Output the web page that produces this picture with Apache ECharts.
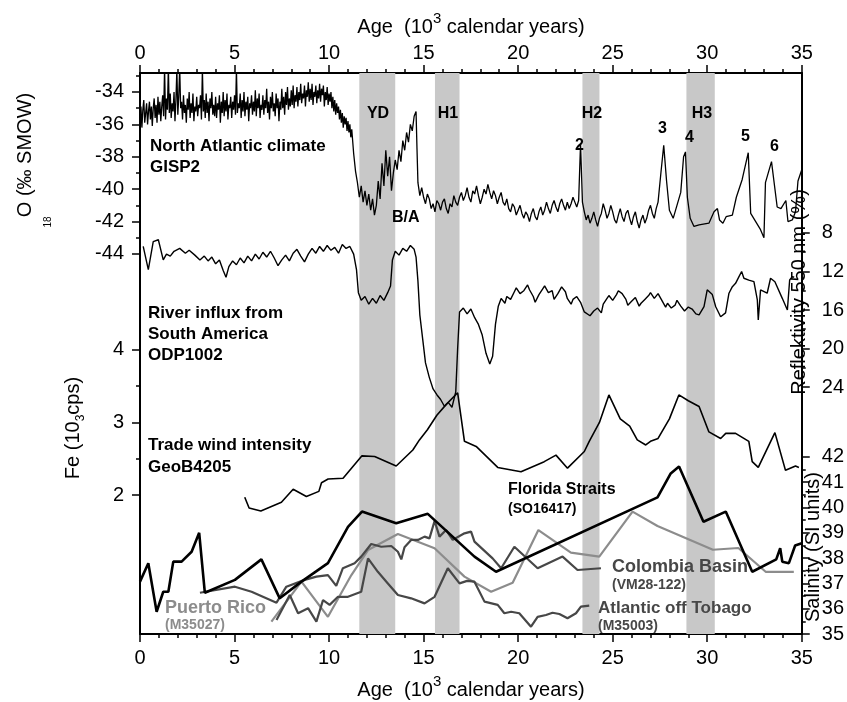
<!DOCTYPE html>
<html><head><meta charset="utf-8">
<script src="https://cdn.jsdelivr.net/npm/echarts@6/dist/echarts.min.js"></script>
<style>html,body{margin:0;padding:0;background:#fff}#c{width:847px;height:702px}</style>
</head><body><div id="c"></div>
<script>
// ---------- data ----------
const bands = [[11.6, 13.5], [15.6, 16.9], [23.4, 24.3], [28.9, 30.4]];

// GISP2 delta18O: Holocene part sampled every 0.05 ka (0 - 11.2 ka)
const gispHoloStart = 0, gispHoloStep = 0.05;
const gispHoloVal = [
-35.8,-34.9,-36.2,-35.1,-34.5,-35.9,-35.3,-34.7,-36.0,-35.2,
-34.6,-35.7,-34.9,-36.1,-35.0,-34.4,-35.6,-34.8,-35.9,-34.3,
-35.4,-34.6,-35.8,-34.9,-34.2,-35.5,-32.5,-35.7,-34.4,-35.1,
-32.5,-35.3,-34.1,-35.6,-34.7,-35.2,-34.0,-35.8,-34.5,-32.6,
-35.4,-34.3,-32.5,-35.0,-34.6,-35.7,-34.2,-35.3,-34.8,-35.9,
-34.4,-35.1,-34.0,-35.6,-34.7,-35.3,-34.1,-35.8,-34.9,-35.2,
-34.3,-35.5,-34.8,-35.0,-34.2,-35.7,-32.6,-35.2,-34.5,-35.6,
-34.1,-35.3,-34.6,-35.8,-34.4,-35.0,-34.0,-35.4,-34.8,-35.5,
-34.3,-35.6,-34.7,-35.1,-34.2,-35.9,-34.6,-35.3,-34.0,-35.5,
-34.5,-35.2,-34.1,-35.7,-34.8,-35.0,-34.3,-35.6,-34.6,-35.1,
-34.2,-35.4,-32.6,-35.3,-34.7,-35.0,-34.1,-35.6,-34.5,-35.2,
-34.0,-35.5,-34.6,-35.1,-34.3,-35.8,-34.7,-35.0,-34.2,-35.4,
-34.6,-35.2,-33.9,-35.5,-34.4,-35.0,-34.1,-35.6,-34.8,-35.1,
-34.2,-35.4,-34.5,-35.0,-33.8,-35.3,-34.6,-35.7,-34.3,-35.0,
-34.0,-35.2,-34.7,-35.5,-34.1,-35.0,-34.4,-35.8,-34.6,-35.1,
-33.8,-35.0,-34.3,-35.4,-34.0,-34.8,-33.7,-35.1,-34.4,-34.9,
-33.9,-34.8,-33.6,-35.0,-34.2,-34.6,-33.7,-34.9,-34.0,-34.5,
-33.5,-34.7,-34.1,-34.4,-33.6,-34.9,-33.9,-34.3,-33.4,-34.6,
-33.8,-34.5,-33.5,-34.8,-34.0,-34.3,-33.6,-34.7,-33.9,-34.4,
-33.5,-34.6,-33.8,-34.2,-33.6,-34.9,-34.0,-34.5,-33.7,-34.8,
-34.1,-34.6,-34.0,-35.0,-34.3,-35.2,-34.5,-35.4,-34.7,-35.3,
-34.9,-35.7,-35.1,-35.9,-35.3,-36.2,-35.5,-36.0,-35.6,-36.4,
-35.8,-36.5,-36.0,-36.8,-36.3];

// GISP2 delta18O: deglacial and glacial part
const gispAge = [11.3,11.4,11.5,11.6,11.7,11.8,11.9,12.0,12.1,12.2,12.3,12.4,12.5,12.6,12.7,12.8,12.9,13.0,13.1,13.2,13.3,13.4,13.5,13.6,13.7,13.8,13.9,14.0,14.1,14.2,14.3,14.4,14.5,14.6,14.65,14.7,14.8,14.9,
15.0,15.1,15.2,15.3,15.4,15.5,15.6,15.7,15.8,15.9,16.0,16.1,16.2,16.3,16.4,16.5,16.6,16.7,16.8,16.9,17.0,17.1,17.2,17.3,17.4,17.5,17.6,17.7,17.8,17.9,18.0,18.1,18.2,18.3,18.4,18.5,18.6,18.7,18.8,18.9,19.0,19.1,19.2,19.3,19.4,19.5,19.6,19.7,19.8,19.9,20.0,20.1,20.2,20.3,20.4,20.5,20.6,20.7,20.8,20.9,21.0,21.1,21.2,21.3,21.4,21.5,21.6,21.7,21.8,21.9,22.0,22.1,22.2,22.3,22.4,22.5,22.6,22.7,22.8,22.9,23.0,23.1,23.2,23.3,
23.4,23.5,23.6,23.7,23.8,23.9,24.0,24.1,24.2,24.3,24.4,24.5,24.6,24.7,24.8,24.9,25.0,25.1,25.2,25.3,25.4,25.5,25.6,25.7,25.8,25.9,26.0,26.1,26.2,26.3,26.4,26.5,26.6,26.7,26.8,26.9,27.0,27.1,27.2,27.3,27.4,
27.55,27.7,27.85,28.0,28.2,28.4,28.6,28.75,28.85,28.95,29.1,29.3,29.57,30.09,30.36,30.54,30.65,30.83,31.0,31.33,31.54,31.85,32.17,32.3,32.82,33.0,33.08,33.4,33.7,33.9,34.16,34.27,34.5,34.67,34.8,35.0];
const gispVal = [-37.8,-38.9,-39.6,-40.5,-39.8,-40.8,-40.1,-41.0,-40.3,-41.3,-40.6,-41.6,-41.0,-39.5,-40.6,-38.4,-39.8,-37.6,-39.2,-38.0,-40.1,-39.0,-38.2,-38.8,-37.6,-38.3,-37.0,-37.6,-36.5,-37.1,-36.0,-36.4,-35.5,-35.2,-37.5,-39.6,-40.4,-39.9,
-40.5,-40.9,-40.3,-40.6,-41.2,-40.9,-41.4,-40.7,-40.9,-41.3,-40.8,-40.6,-41.2,-41.5,-40.9,-41.1,-40.4,-40.8,-41.0,-40.5,-40.2,-40.7,-40.4,-39.9,-40.5,-40.8,-40.1,-40.3,-39.8,-40.4,-40.9,-40.5,-40.0,-40.3,-39.7,-40.2,-40.6,-40.1,-40.4,-40.9,-40.5,-40.2,-40.8,-41.0,-40.6,-41.2,-41.4,-40.9,-41.1,-41.6,-41.3,-41.0,-41.5,-41.8,-41.4,-41.6,-42.0,-41.5,-41.2,-41.7,-41.9,-41.4,-41.1,-41.6,-41.3,-40.8,-41.2,-41.5,-41.0,-40.7,-41.1,-41.4,-40.9,-40.6,-41.0,-41.3,-40.8,-41.2,-40.9,-40.5,-40.8,-41.1,-40.7,-37.2,
-40.8,-41.4,-41.9,-41.6,-42.1,-41.8,-41.4,-41.9,-42.3,-41.8,-41.5,-40.9,-41.3,-41.8,-41.5,-41.0,-41.4,-41.9,-42.1,-41.6,-41.2,-41.7,-42.0,-41.5,-41.3,-41.8,-42.2,-41.7,-41.4,-42.0,-42.4,-41.9,-41.6,-42.1,-41.8,-41.3,-41.0,-41.5,-41.8,-41.2,-40.8,
-39.0,-37.3,-39.5,-41.3,-41.8,-41.0,-40.2,-38.0,-37.7,-40.5,-41.8,-42.3,-42.2,-42.1,-41.4,-41.2,-41.9,-42.1,-41.7,-41.6,-40.5,-39.4,-37.75,-41.5,-42.5,-43.0,-39.6,-38.3,-41.1,-41.2,-40.7,-42.0,-41.9,-41.4,-39.5,-38.8];

// ODP1002 reflectivity
const odpAge = [0.17,0.44,0.7,0.97,1.23,1.4,1.6,1.8,2.1,2.4,2.6,2.9,3.17,3.4,3.6,3.8,4.0,4.2,4.4,4.55,4.7,4.9,5.1,5.3,5.5,5.7,5.9,6.1,6.3,6.5,6.7,6.9,7.1,7.3,7.5,7.7,7.9,8.1,8.3,8.5,8.7,8.9,9.1,9.3,9.5,9.7,9.9,10.1,10.3,10.5,10.7,10.9,11.1,11.3,11.45,11.55,11.7,11.9,12.1,12.3,12.5,12.7,12.9,13.1,13.25,13.35,13.5,13.7,13.9,14.1,14.3,14.5,14.6,14.7,14.8,14.95,15.1,15.3,15.5,15.7,15.9,16.1,16.3,16.5,16.7,16.8,16.9,17.1,17.3,17.5,17.7,17.9,18.1,18.3,18.5,18.65,18.8,18.95,
19.1,19.3,19.4,19.6,19.8,19.9,20.1,20.3,20.5,20.6,20.8,20.9,21.1,21.3,21.4,21.6,21.8,21.9,22.1,22.3,22.5,22.6,22.8,22.9,23.1,23.3,23.5,23.6,23.8,24.0,24.2,24.4,24.5,24.7,24.8,25.0,25.2,25.3,25.5,25.7,25.8,26.0,26.2,26.4,26.5,26.7,26.9,27.0,27.2,27.4,27.6,27.8,27.9,28.1,28.3,28.4,28.6,28.8,29.0,29.2,29.4,
29.57,29.83,30.0,30.27,30.45,30.71,30.97,31.15,31.33,31.5,31.68,31.82,31.94,32.2,32.47,32.65,32.7,32.82,33.17,33.35,33.58,33.97,34.24,34.36,34.5,34.6];
const odpVal = [9.4,11.8,8.9,8.7,10.8,10.2,10.4,9.9,9.6,10.1,9.8,10.3,10.8,10.4,10.9,10.5,11.2,10.8,11.9,12.6,11.5,10.9,11.3,10.6,11.1,10.4,10.9,10.2,10.7,10.0,10.5,9.9,10.6,11.4,10.8,10.3,10.9,10.1,9.7,10.4,11.0,10.2,9.6,10.1,9.4,9.9,9.3,9.8,9.5,10.1,9.2,9.6,9.4,10.2,11.8,14.2,15.0,14.6,15.4,14.8,15.3,14.5,15.0,14.2,13.5,10.8,9.9,10.3,9.6,9.9,9.3,9.7,10.5,13.0,16.5,19.0,21.5,23.0,24.2,24.8,25.3,26.0,25.6,26.1,24.5,20.0,16.2,15.8,16.4,15.9,16.8,17.5,18.6,20.5,21.6,20.8,17.5,15.6,
14.8,15.3,14.6,14.9,14.1,13.7,14.3,14.0,13.4,13.9,14.6,15.2,14.4,13.8,13.5,14.2,14.0,14.9,14.3,13.6,14.1,14.8,15.4,14.9,14.6,15.2,16.2,16.0,16.6,16.1,15.8,16.3,15.4,14.8,14.5,15.0,14.4,14.0,14.3,14.9,15.5,15.1,14.7,15.6,15.3,14.9,14.5,14.2,14.8,14.3,15.0,15.7,15.3,15.8,15.5,15.0,15.6,16.1,15.7,15.9,16.4,
16.5,15.66,13.9,14.4,15.66,16.7,16.3,14.26,13.58,13.23,12.54,12.0,12.7,12.9,13.06,14.96,17.04,13.92,14.26,12.7,13.06,14.79,16.0,12.88,12.54,12.6];

// GeoB4205 Fe
const geoAge = [5.54,5.77,6.39,7.48,8.10,8.80,9.46,9.60,9.95,10.74,11.74,12.41,13.55,14.43,14.78,15.2,15.7,16.2,16.8,17.16,17.78,18.92,20.15,21.38,22.0,22.61,23.5,23.76,24.3,24.8,25.4,25.9,26.3,26.75,27.0,27.4,28.0,28.5,29.0,29.57,30.09,30.71,30.98,31.5,32.2,32.38,32.7,33.58,34.14,34.67,34.85];
const geoVal = [1.97,1.82,1.78,1.90,2.08,1.98,2.05,2.17,2.22,2.23,2.54,2.53,2.40,2.62,2.76,2.90,3.10,3.25,3.41,2.74,2.67,2.38,2.32,2.46,2.55,2.37,2.60,2.74,3.00,3.38,3.05,2.95,2.76,2.69,2.74,2.78,3.05,3.38,3.30,3.22,2.87,2.78,2.85,2.85,2.74,2.46,2.38,2.86,2.34,2.40,2.38];

// Salinity records
const flAge = [0,0.44,0.88,1.23,1.5,1.76,2.2,2.73,3.13,3.43,5.02,6.42,7.39,8.54,9.94,11.0,11.74,13.55,15.22,17.69,18.83,27.37,28.07,28.51,29.8,30.98,32.38,33.65,33.86,33.97,34.32,34.65,35];
const flVal = [37.07,37.8,35.88,36.67,36.67,37.86,37.86,38.25,39.0,36.63,37.14,37.95,36.41,37.07,37.8,39.24,39.84,39.38,39.75,38.06,37.46,40.4,41.35,41.62,39.44,39.84,37.46,37.95,38.39,37.86,37.8,38.5,38.59];

const cbAge = [3.17,5.02,5.90,7.22,7.74,8.71,9.33,9.94,10.38,10.73,11.35,11.7,12.23,12.76,13.29,13.64,13.82,13.99,14.34,14.7,15.05,15.31,15.58,15.84,16.19,16.54,17.16,17.51,17.69,18.65,19.1,19.8,21.03,22.35,23.14,24.38];
const cbVal = [36.63,36.87,36.67,36.24,36.87,37.14,37.27,37.33,36.90,37.6,37.8,38.06,38.56,38.45,38.48,38.25,37.95,38.43,38.72,38.72,38.85,38.78,39.47,38.85,39.11,38.72,38.98,39.05,38.65,37.99,37.6,38.45,37.6,38.06,37.53,37.6];

const tbAge = [7.22,7.92,8.36,8.89,9.33,9.68,10.03,10.47,11.0,11.7,12.06,12.58,13.11,13.64,14.34,15.05,15.58,16.28,16.9,17.3,17.69,18.22,18.92,19.27,19.63,20.06,20.68,21.03,21.47,21.82,22.18,22.61,23.06,23.32,23.76];
const tbVal = [35.55,36.54,35.82,36.02,35.49,36.34,36.15,36.47,36.47,36.67,37.99,37.46,37.0,36.54,36.41,36.21,36.47,37.6,37.0,37.1,37.07,36.28,36.15,35.82,35.88,35.82,35.29,35.68,35.75,35.84,35.79,35.62,35.82,36.08,36.12];

const prAge = [6.95,8.54,9.94,11.18,12.06,13.64,15.58,17.16,18.57,19.71,21.07,22.79,24.29,26.05,27.37,30.3,31.65,33.09,34.58];
const prVal = [35.49,37.07,35.68,37.33,38.32,38.95,38.39,37.27,36.67,37.03,39.11,38.22,38.06,39.84,39.27,38.33,38.4,37.46,37.46];

// axis ticks
const d18Ticks = [-34, -36, -38, -40, -42, -44];
const d18Minor = [-33, -35, -37, -39, -41, -43];
const feTicks = [2, 3, 4];
const feMinor = [2.5, 3.5];
const reflTicks = [8, 12, 16, 20, 24];
const reflMinor = [10, 14, 18, 22];
const salTicks = [35, 36, 37, 38, 39, 40, 41, 42];
const salMinor = [35.5, 36.5, 37.5, 38.5, 39.5, 40.5, 41.5];

// ---------- chart ----------
const FONT = 'Arial, "Liberation Sans", sans-serif';
const zip = (a, b) => a.map((v, i) => [v, b[i]]);
const gispData = gispHoloVal.map((v, i) => [+(gispHoloStart + i * gispHoloStep).toFixed(2), v]).concat(zip(gispAge, gispVal));
const chart = echarts.init(document.getElementById('c'), null, {renderer: 'canvas'});

function xax(pos, margin) {
  return {
    type: 'value', position: pos, min: 0, max: 35, interval: 5,
    axisLine: {show: true, onZero: false, lineStyle: {color: '#000', width: 2}},
    axisTick: {show: true, inside: false, length: 8, lineStyle: {color: '#000', width: 1.5}},
    minorTick: {show: true, splitNumber: 5, length: 4, lineStyle: {color: '#000', width: 1.5}},
    splitLine: {show: false}, minorSplitLine: {show: false},
    axisLabel: {color: '#000', fontSize: 20, fontFamily: FONT, margin: margin}
  };
}
function yax(pos, min, max, inv, ticks, len, labels, line) {
  return {
    type: 'value', position: pos, min: min, max: max, inverse: inv,
    axisLine: {show: !!line, onZero: false, lineStyle: {color: '#000', width: 2}},
    axisTick: {show: true, inside: false, length: len, customValues: ticks, lineStyle: {color: '#000', width: 1.5}},
    splitLine: {show: false},
    axisLabel: labels ? {show: true, customValues: ticks, color: '#000', fontSize: 20, fontFamily: FONT, margin: pos === 'left' ? 16 : 20} : {show: false}
  };
}

const lineS = (name, data, yi, color, w) => ({
  name: name, type: 'line', xAxisIndex: 0, yAxisIndex: yi, data: data,
  showSymbol: false, symbol: 'none', smooth: false, clip: true, z: 3,
  lineStyle: {color: color, width: w}, animation: false
});

function txt(x, y, text, size, color, bold, align) {
  return {
    type: 'text', x: x, y: y, z: 100,
    style: {text: text, fill: color || '#000', font: (bold ? 'bold ' : '') + size + 'px ' + FONT,
            textAlign: align || 'left', textVerticalAlign: 'middle'}
  };
}
function rtxt(x, y, text, size, rich) {
  return {
    type: 'text', x: x, y: y, rotation: Math.PI / 2, z: 100,
    style: {text: text, fill: '#000', font: size + 'px ' + FONT, textAlign: 'center', textVerticalAlign: 'middle', rich: rich}
  };
}

const ageRich = {
  a: {fontSize: 20, fontFamily: FONT, fill: '#000', lineHeight: 26, verticalAlign: 'bottom'},
  s: {fontSize: 15, fontFamily: FONT, fill: '#000', lineHeight: 26, verticalAlign: 'top'}
};

const option = {
  backgroundColor: '#fff',
  animation: false,
  grid: {left: 140, top: 73, width: 663, height: 561, containLabel: false},
  xAxis: [xax('bottom', 14), xax('top', 10)],
  yAxis: [
    yax('left', -67.46, -32.83, false, d18Ticks, 8, true, true),
    yax('left', -67.46, -32.83, false, d18Minor, 4, false, false),
    yax('left', 0.083, 7.82, false, feTicks, 8, true, false),
    yax('left', 0.083, 7.82, false, feMinor, 4, false, false),
    yax('right', -8.62, 49.66, true, reflTicks, 8, true, true),
    yax('right', -8.62, 49.66, true, reflMinor, 4, false, false),
    yax('right', 35, 57.18, false, salTicks, 8, true, false),
    yax('right', 35, 57.18, false, salMinor, 4, false, false)
  ],
  series: [
    {type: 'line', xAxisIndex: 0, yAxisIndex: 0, data: [], z: 1, silent: true,
     markArea: {silent: true, itemStyle: {color: '#c8c8c8'},
       data: bands.map(b => [{xAxis: b[0]}, {xAxis: b[1]}])}},
    lineS('GISP2', gispData, 0, '#000', 1.3),
    lineS('ODP1002', zip(odpAge, odpVal), 4, '#000', 1.4),
    lineS('GeoB4205', zip(geoAge, geoVal), 2, '#000', 1.6),
    lineS('Puerto Rico', zip(prAge, prVal), 6, '#8c8c8c', 2.2),
    lineS('Colombia Basin', zip(cbAge, cbVal), 6, '#474747', 2.2),
    lineS('Atlantic off Tobago', zip(tbAge, tbVal), 6, '#474747', 2.2),
    lineS('Florida Straits', zip(flAge, flVal), 6, '#000', 2.6)
  ],
  graphic: [
    {type: 'text', x: 471, y: 24, z: 100, style: {text: '{a|Age  (10}{s|3}{a| calendar years)}', rich: ageRich, textAlign: 'center', textVerticalAlign: 'middle'}},
    {type: 'text', x: 471, y: 687, z: 100, style: {text: '{a|Age  (10}{s|3}{a| calendar years)}', rich: ageRich, textAlign: 'center', textVerticalAlign: 'middle'}},
    rtxt(25, 155, 'O (‰ SMOW)', 20),
    rtxt(48, 222, '18', 10),
    rtxt(75, 428, '{a|Fe (10}{b|3}{a|cps)}', 20, {
      a: {fontSize: 20, fontFamily: FONT, fill: '#000', lineHeight: 24, verticalAlign: 'top'},
      b: {fontSize: 12, fontFamily: FONT, fill: '#000', lineHeight: 24, verticalAlign: 'bottom'}}),
    rtxt(799, 292, 'Reflektivity 550 nm (%)', 20),
    rtxt(813, 547, 'Salinity (SI units)', 20),
    txt(150, 146, 'North Atlantic climate', 17, '#000', true),
    txt(150, 167, 'GISP2', 17, '#000', true),
    txt(148, 313, 'River influx from', 17, '#000', true),
    txt(148, 334, 'South America', 17, '#000', true),
    txt(148, 355, 'ODP1002', 17, '#000', true),
    txt(148, 445, 'Trade wind intensity', 17, '#000', true),
    txt(148, 467, 'GeoB4205', 17, '#000', true),
    txt(508, 490, 'Florida Straits', 16, '#000', true),
    txt(508, 509, '(SO16417)', 14, '#000', true),
    txt(612, 567, 'Colombia Basin', 18, '#474747', true),
    txt(612, 585, '(VM28-122)', 14, '#474747', true),
    txt(598, 608, 'Atlantic off Tobago', 17, '#474747', true),
    txt(598, 626, '(M35003)', 14, '#474747', true),
    txt(165, 608, 'Puerto Rico', 18, '#8c8c8c', true),
    txt(165, 625, '(M35027)', 14, '#8c8c8c', true),
    txt(378, 114, 'YD', 16, '#000', true, 'center'),
    txt(448, 114, 'H1', 16, '#000', true, 'center'),
    txt(592, 114, 'H2', 16, '#000', true, 'center'),
    txt(702, 114, 'H3', 16, '#000', true, 'center'),
    txt(575, 146, '2', 16, '#000', true),
    txt(658, 129, '3', 16, '#000', true),
    txt(685, 138, '4', 16, '#000', true),
    txt(741, 137, '5', 16, '#000', true),
    txt(770, 147, '6', 16, '#000', true),
    txt(392, 218, 'B/A', 16, '#000', true)
  ]
};
chart.setOption(option);
</script>
</body></html>
